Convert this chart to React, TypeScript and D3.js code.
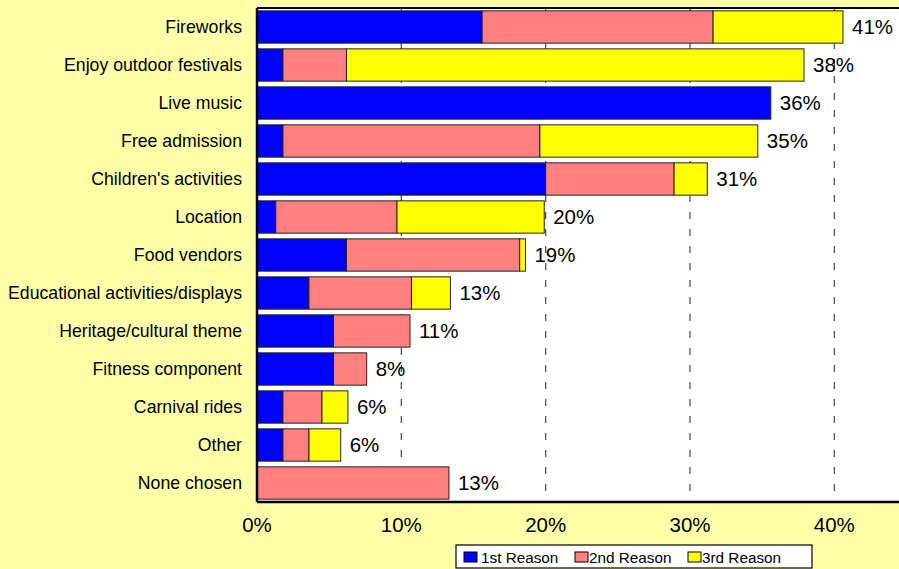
import React from "react";
import * as d3 from "d3";

const categories = [
  "Fireworks",
  "Enjoy outdoor festivals",
  "Live music",
  "Free admission",
  "Children's activities",
  "Location",
  "Food vendors",
  "Educational activities/displays",
  "Heritage/cultural theme",
  "Fitness component",
  "Carnival rides",
  "Other",
  "None chosen",
];
const firstReason = [15.6, 1.8, 35.6, 1.8, 20.0, 1.3, 6.2, 3.6, 5.3, 5.3, 1.8, 1.8, 0];
const secondReason = [16.0, 4.4, 0, 17.8, 8.9, 8.4, 12.0, 7.1, 5.3, 2.3, 2.7, 1.8, 13.3];
const thirdReason = [9.0, 31.7, 0, 15.1, 2.3, 10.2, 0.4, 2.7, 0, 0, 1.8, 2.2, 0];
const totalLabels = ["41%", "38%", "36%", "35%", "31%", "20%", "19%", "13%", "11%", "8%", "6%", "6%", "13%"];
const seriesNames = ["1st Reason", "2nd Reason", "3rd Reason"];
const seriesColors = ["#0000FF", "#FF8080", "#FFFF00"];
const xTicks = [0, 10, 20, 30, 40];

const W = 899;
const H = 569;
const FONT = "'Liberation Sans', Arial, sans-serif";

export default function App() {
  const left = 257;
  const top = 8;
  const bottom = 502;
  const x = d3.scaleLinear().domain([0, 45]).range([left, left + 649.5]);
  const y = d3
    .scaleBand<string>()
    .domain(categories)
    .range([top, bottom])
    .paddingInner(0.15)
    .paddingOuter(0.075);

  const rows = categories.map((c, i) => ({
    cat: c,
    v: [firstReason[i], secondReason[i], thirdReason[i]],
  }));
  const stack = d3
    .stack<any, number>()
    .keys([0, 1, 2])
    .value((d: any, k: number) => d.v[k]);
  const stacked = stack(rows as any);

  const legendItems = [
    { sx: 464, tx: 481 },
    { sx: 575, tx: 589 },
    { sx: 688, tx: 702 },
  ];

  return (
    <div style={{ position: "fixed", left: 0, top: 0, width: W, height: H }}>
      <svg width={W} height={H} style={{ display: "block", fontFamily: FONT }}>
        <rect x={0} y={0} width={W} height={H} fill="#FFFFAA" />
        <rect x={left} y={top} width={x(45) - left} height={bottom - top} fill="#FFFFFF" />
        {xTicks.slice(1).map((t) => (
          <line
            key={t}
            x1={x(t)}
            x2={x(t)}
            y1={top}
            y2={bottom}
            stroke="#555"
            strokeWidth={1.3}
            strokeDasharray="7,10"
          />
        ))}
        {stacked.map((s, si) =>
          s.map((d: any, i: number) => {
            const w = x(d[1]) - x(d[0]);
            if (w <= 0) return null;
            return (
              <rect
                key={si + "-" + i}
                x={x(d[0])}
                y={y(categories[i])}
                width={w}
                height={y.bandwidth()}
                fill={seriesColors[si]}
                stroke="#222"
                strokeWidth={1}
              />
            );
          })
        )}
        {categories.map((c, i) => {
          const tot = firstReason[i] + secondReason[i] + thirdReason[i];
          return (
            <text
              key={"v" + c}
              x={x(tot) + 9}
              y={(y(c) as number) + y.bandwidth() / 2}
              dy="0.36em"
              fontSize={20.5}
              fill="#000"
            >
              {totalLabels[i]}
            </text>
          );
        })}
        {categories.map((c) => (
          <text
            key={"c" + c}
            x={242}
            y={(y(c) as number) + y.bandwidth() / 2}
            dy="0.36em"
            textAnchor="end"
            fontSize={17.7}
            fill="#000"
          >
            {c}
          </text>
        ))}
        <line x1={left} x2={W} y1={top} y2={top} stroke="#000" strokeWidth={2} />
        <line x1={left} x2={W} y1={bottom} y2={bottom} stroke="#000" strokeWidth={2.5} />
        <line x1={left} x2={left} y1={top} y2={bottom} stroke="#000" strokeWidth={2.5} />
        {xTicks.map((t) => (
          <text
            key={"t" + t}
            x={x(t)}
            y={525}
            dy="0.36em"
            textAnchor="middle"
            fontSize={20.5}
            fill="#000"
          >
            {t + "%"}
          </text>
        ))}
        <rect x={456} y={545} width={356} height={23} fill="#FFFFFF" stroke="#000" strokeWidth={1.2} />
        {seriesNames.map((n, i) => (
          <g key={n}>
            <rect
              x={legendItems[i].sx}
              y={552}
              width={13}
              height={10}
              fill={seriesColors[i]}
              stroke="#000"
              strokeWidth={1}
            />
            <text x={legendItems[i].tx} y={557} dy="0.36em" fontSize={15.3} fill="#000">
              {n}
            </text>
          </g>
        ))}
      </svg>
    </div>
  );
}
